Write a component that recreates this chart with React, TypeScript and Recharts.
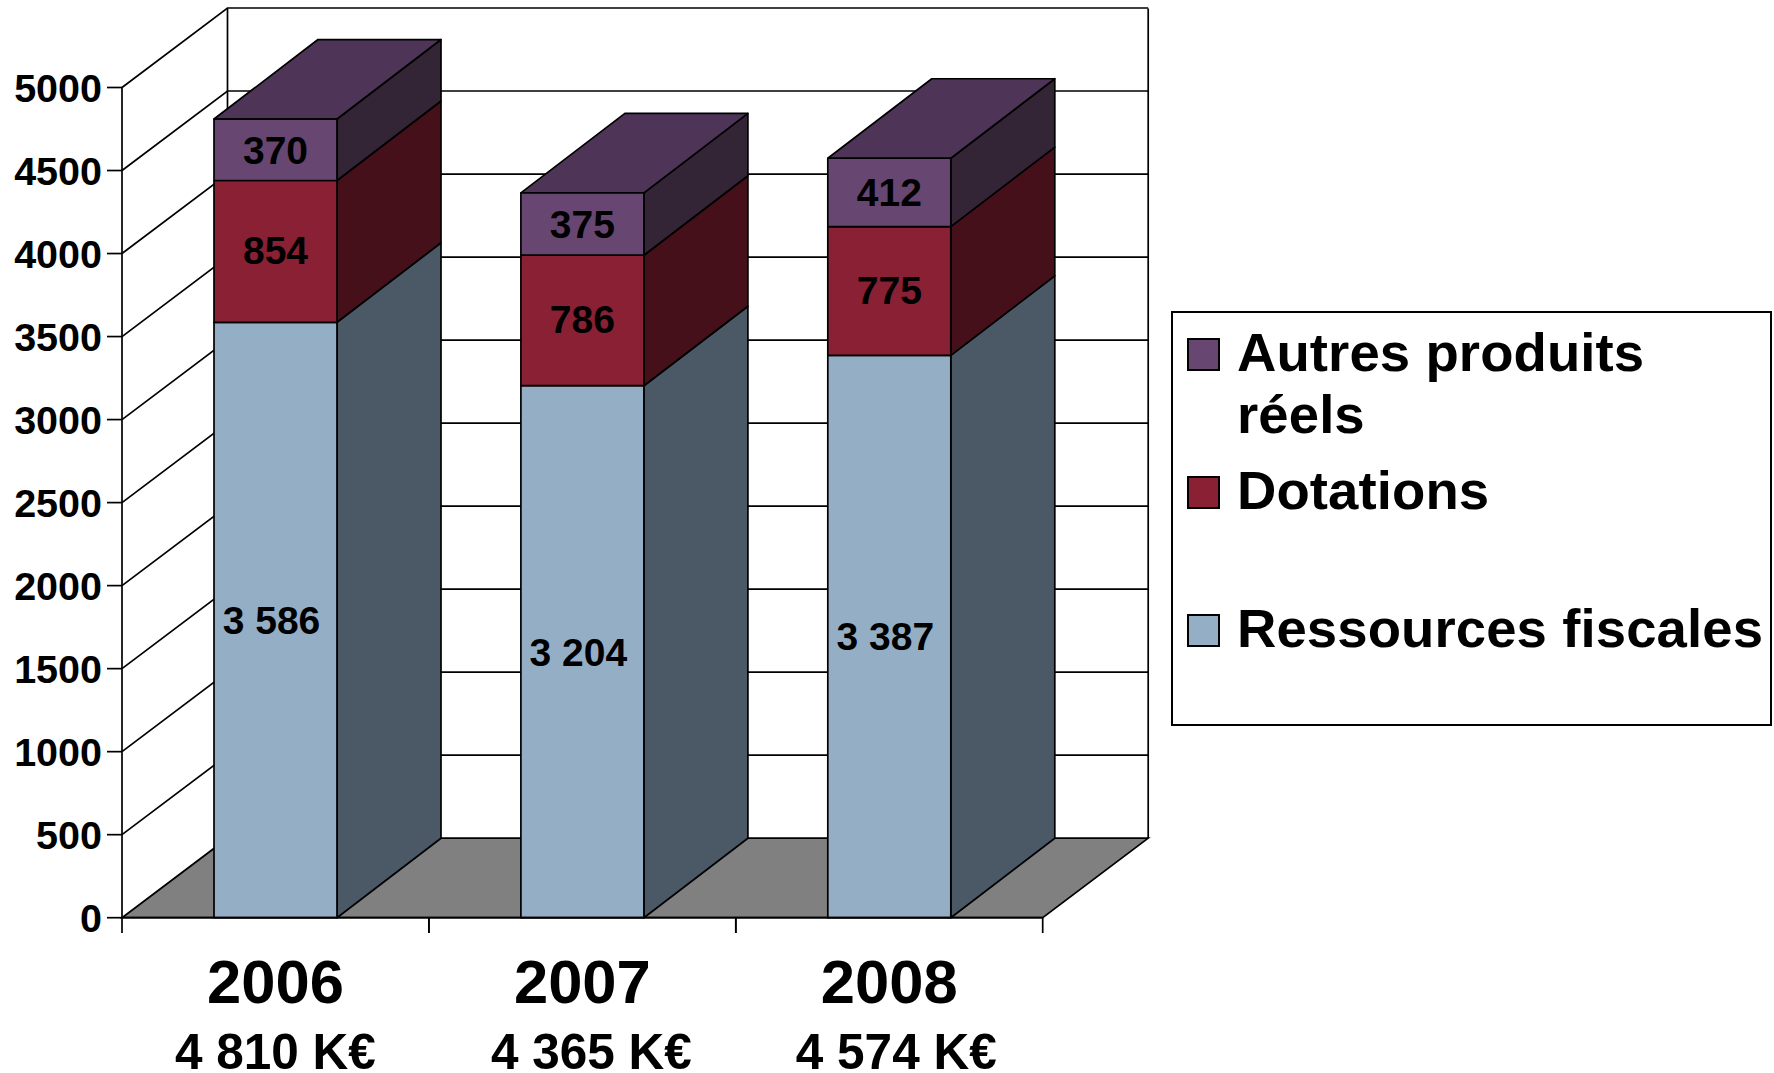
import React from "react";
import { Bar, BarChart, LabelList, Legend, ReferenceLine, XAxis, YAxis } from "recharts";

const years = ["2006", "2007", "2008"];
const totals = ["4 810 K€", "4 365 K€", "4 574 K€"];
const ressources = [3586, 3204, 3387];
const dotations = [854, 786, 775];
const autres = [370, 375, 412];
const yTicks = [0, 500, 1000, 1500, 2000, 2500, 3000, 3500, 4000, 4500, 5000];

const chartData = years.map((year, i) => ({
  year,
  total: totals[i],
  ressources: ressources[i],
  dotations: dotations[i],
  autres: autres[i],
}));

const FONT = '"Liberation Sans", Arial, sans-serif';
const LINE = 1.7;
const DX = 105.5; // depth of the walls
const DY = 79.5;
const BAR_DX = 104;
const PLOT_W = 920.7;
const TOTAL_SHIFT = [0, 9, 7]; // the totals are not quite centred under the years

const formatValue = (v: number) => String(v).replace(/(\d)(\d{3})$/, "$1 $2");

// front face, side face and optional top face of one stacked block
const Block3D = (props: any) => {
  const { x, y, width, height, fill, side, top } = props;
  const r = x + width;
  const b = y + height;
  return (
    <g stroke="#000" strokeWidth={LINE} strokeLinejoin="round">
      <polygon fill={side} points={`${r},${y} ${r + BAR_DX},${y - DY} ${r + BAR_DX},${b - DY} ${r},${b}`} />
      {top && <polygon fill={top} points={`${x},${y} ${x + BAR_DX},${y - DY} ${r + BAR_DX},${y - DY} ${r},${y}`} />}
      <rect x={x} y={y} width={width} height={height} fill={fill} />
    </g>
  );
};

// gridline: diagonal on the side wall then across the back wall
const WallLine = (props: any) => {
  const { x1, x2, y1 } = props;
  return (
    <polyline
      fill="none"
      stroke="#000"
      strokeWidth={LINE}
      points={`${x1},${y1} ${x1 + DX},${y1 - DY} ${x2 + DX},${y1 - DY}`}
    />
  );
};

const Floor = (props: any) => {
  const { x1, x2, y1 } = props;
  return (
    <g stroke="#000" strokeWidth={LINE}>
      <polygon fill="#808080" points={`${x1},${y1} ${x1 + DX},${y1 - DY} ${x2 + DX},${y1 - DY} ${x2},${y1}`} />
      <line x1={x2 + DX} x2={x2 + DX} y1={y1 - DY} y2={8.5} />
      <line x1={x1 + DX} x2={x1 + DX} y1={y1 - DY} y2={8.5} />
    </g>
  );
};

const YearTick = (props: any) => {
  const { x, payload, index } = props;
  const half = PLOT_W / 6;
  return (
    <g fontFamily={FONT} fontWeight="bold" fill="#000" textAnchor="middle">
      <line x1={x - half} x2={x - half} y1={917.7} y2={933} stroke="#000" strokeWidth={LINE} />
      <line x1={x + half} x2={x + half} y1={917.7} y2={933} stroke="#000" strokeWidth={LINE} />
      <text x={x} y={1003} fontSize={61.5} stroke="none">{payload.value}</text>
      <text x={x + TOTAL_SHIFT[index]} y={1069} fontSize={49.5} stroke="none">{totals[index]}</text>
    </g>
  );
};

const LegendBox = ({ payload }: any) => {
  return (
    <div style={{ position: "relative", width: 601, height: 415, boxSizing: "border-box", border: "2px solid #000", background: "#fff", fontFamily: FONT, fontWeight: "bold", fontSize: 54.5, lineHeight: "62px", color: "#000" }}>
      {(payload || []).map((item: any, i: number) => (
        <div key={item.value} style={{ position: "absolute", left: 14, top: 25 + i * 138 }}>
          <span style={{ position: "absolute", left: 0, top: 0, width: 33, height: 33, boxSizing: "border-box", border: "2px solid #000", background: item.color }} />
          <span style={{ position: "absolute", left: 50, top: -16, width: 535, letterSpacing: 0.1 }}>{item.value}</span>
        </div>
      ))}
    </div>
  );
};

const labelStyle = { fontFamily: FONT, fontWeight: "bold", fontSize: 39, fill: "#000" };

export default function App() {
  return (
    <div style={{ position: "absolute", left: 0, top: 0, width: 1774, height: 1073, overflow: "hidden", background: "#fff" }}>
      <BarChart
        width={1774}
        height={1073}
        data={chartData}
        margin={{ top: 87.5, right: 130.3, bottom: 0, left: 0 }}
        barSize={123}
      >
        <XAxis
          dataKey="year"
          height={155.3}
          axisLine={{ stroke: "#000", strokeWidth: LINE }}
          tickLine={false}
          tick={<YearTick />}
          interval={0}
        />
        <YAxis
          width={122}
          domain={[0, 5000]}
          ticks={yTicks}
          interval={0}
          tickSize={15}
          tickMargin={5}
          axisLine={{ stroke: "#000", strokeWidth: LINE }}
          tickLine={{ stroke: "#000", strokeWidth: LINE }}
          tick={{ fontFamily: FONT, fontWeight: "bold", fontSize: 39.5, fill: "#000" }}
        />
        {yTicks.slice(1).map((v) => (
          <ReferenceLine key={v} y={v} shape={<WallLine />} zIndex={-100} />
        ))}
        <ReferenceLine y={0} shape={<Floor />} zIndex={-90} />
        <Legend
          layout="horizontal"
          verticalAlign="middle"
          align="right"
          content={<LegendBox />}
          wrapperStyle={{ left: 1171, top: 311, width: 601, height: 415, right: "auto", bottom: "auto" }}
        />
        <Bar
          dataKey="ressources"
          name="Ressources fiscales"
          stackId="a"
          fill="#94afc5"
          isAnimationActive={false}
          shape={(p: any) => <Block3D {...p} side="#4a5965" />}
        >
          <LabelList dataKey="ressources" position="center" formatter={formatValue} style={labelStyle} dx={-4} />
        </Bar>
        <Bar
          dataKey="dotations"
          name="Dotations"
          stackId="a"
          fill="#8a2033"
          isAnimationActive={false}
          shape={(p: any) => <Block3D {...p} side="#45101a" />}
        >
          <LabelList dataKey="dotations" position="center" style={labelStyle} dy={-1} />
        </Bar>
        <Bar
          dataKey="autres"
          name="Autres produits réels"
          stackId="a"
          fill="#674772"
          isAnimationActive={false}
          shape={(p: any) => <Block3D {...p} side="#332436" top="#4e3558" />}
        >
          <LabelList dataKey="autres" position="center" style={labelStyle} />
        </Bar>
      </BarChart>
    </div>
  );
}
